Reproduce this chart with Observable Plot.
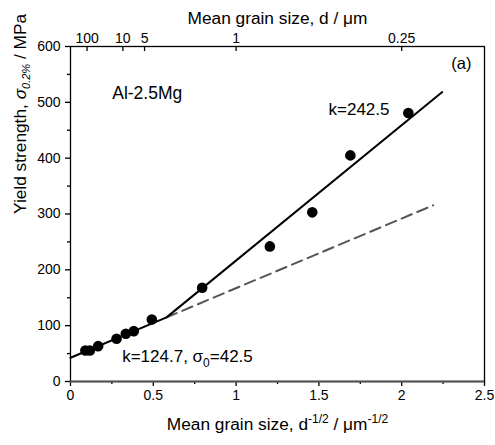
<!DOCTYPE html>
<html><head><meta charset="utf-8">
<script src="https://cdn.jsdelivr.net/npm/d3@7"></script>
<script src="https://cdn.jsdelivr.net/npm/@observablehq/plot@0.6"></script>
<style>body{margin:0;background:#fff}</style>
</head><body><div id="chart"></div>
<script>
// Data: d^-1/2 (µm^-1/2) and yield strength (MPa)
const grainInvSqrt = [0.090, 0.117, 0.167, 0.278, 0.334, 0.382, 0.491, 0.795, 1.204, 1.460, 1.690, 2.040];
const yieldStrength = [55.6, 55.6, 63.3, 76.5, 85.4, 90.2, 111, 168, 242, 303, 405, 481];

// Tick values
const xTicks = [0, 0.5, 1, 1.5, 2, 2.5];
const xMinorTicks = [0.25, 0.75, 1.25, 1.75, 2.25];
const yTicks = [0, 100, 200, 300, 400, 500, 600];
const yMinorTicks = [50, 150, 250, 350, 450, 550];
const grainSizeTicks = [100, 10, 5, 1, 0.25];
const grainSizeLabels = ["100", "10", "5", "1", "0.25"];

// Hall-Petch fits
const kLow = 124.7, sigma0 = 42.5;
const kHigh = 242.5, interceptHigh = -26;
const xKnee = 0.58, xSolidEnd = 2.245, xDashEnd = 2.19;

const topPositions = grainSizeTicks.map(d => 1 / Math.sqrt(d));
const low = x => kLow * x + sigma0;
const high = x => kHigh * x + interceptHigh;
const solidFit = [[0, low(0)], [xKnee, low(xKnee)], [xSolidEnd, high(xSolidEnd)]];
const dashFit = [[xKnee, low(xKnee)], [xDashEnd, low(xDashEnd)]];
const points = grainInvSqrt.map((x, i) => ({x, y: yieldStrength[i]}));

const font = "Liberation Sans, Arial, Helvetica, sans-serif";

const plot = Plot.plot({
  width: 495, height: 445,
  marginLeft: 70, marginRight: 11, marginTop: 46, marginBottom: 64,
  style: {fontFamily: font, fontSize: "14px", color: "#000", background: "#fff", overflow: "visible"},
  x: {domain: [0, 2.5]},
  y: {domain: [0, 600]},
  marks: [
    Plot.frame({stroke: "#000", strokeWidth: 1.3}),
    Plot.axisX({ticks: xTicks, tickSize: 5, tickPadding: 4, tickFormat: d => String(d), label: null, strokeWidth: 1.3}),
    Plot.axisX({ticks: xMinorTicks, tickSize: 3, tickFormat: () => "", label: null, strokeWidth: 1.3}),
    Plot.axisX({anchor: "top", ticks: topPositions, tickSize: -4, tickPadding: 8, label: null, strokeWidth: 1.3,
      tickFormat: v => grainSizeLabels[topPositions.indexOf(v)]}),
    Plot.axisY({ticks: yTicks, tickSize: 5, tickPadding: 5, label: null, strokeWidth: 1.3}),
    Plot.axisY({ticks: yMinorTicks, tickSize: 3, tickFormat: () => "", label: null, strokeWidth: 1.3}),
    Plot.ruleY([0], {stroke: "#555", strokeWidth: 2}),
    Plot.line(dashFit, {x: d => d[0], y: d => d[1], stroke: "#555", strokeWidth: 2, strokeDasharray: "11,6"}),
    Plot.line(solidFit, {x: d => d[0], y: d => d[1], stroke: "#000", strokeWidth: 2}),
    Plot.dot(points, {x: "x", y: "y", r: 5.3, fill: "#000", stroke: "none"}),
    Plot.text(["Al-2.5Mg"], {x: 0.252, y: 516, text: d => d, textAnchor: "start", fontSize: 17.5}),
    Plot.text(["(a)"], {x: 2.36, y: 569, text: d => d, fontSize: 16.5}),
    Plot.text(["k=242.5"], {x: 1.558, y: 487, text: d => d, textAnchor: "start", fontSize: 17}),
    Plot.text(["K1LABEL"], {x: 0.312, y: 44, text: d => d, textAnchor: "start", fontSize: 17}),
    Plot.text(["XLABEL"], {frameAnchor: "bottom", dy: 48, text: d => d, fontSize: 17.3}),
    Plot.text(["TOPLABEL"], {frameAnchor: "top", dy: -35, text: d => d, fontSize: 17.3}),
    Plot.text(["YLABEL"], {frameAnchor: "left", dx: -50, rotate: -90, text: d => d, fontSize: 17.3})
  ]
});

const rich = {
  "K1LABEL": 'k=124.7, σ<tspan dy="5" font-size="12">0</tspan><tspan dy="-5">=42.5</tspan>',
  "XLABEL": 'Mean grain size, d<tspan dy="-7" font-size="12">-1/2</tspan><tspan dy="7"> / μm</tspan><tspan dy="-7" font-size="12">-1/2</tspan>',
  "TOPLABEL": 'Mean grain size, d / μm',
  "YLABEL": 'Yield strength, <tspan font-style="italic">σ</tspan><tspan dy="4" font-size="11" font-style="italic">0.2%</tspan><tspan dy="-4"> / MPa</tspan>'
};
plot.querySelectorAll("text").forEach(t => {
  const key = t.textContent;
  if (rich[key]) t.innerHTML = rich[key];
});
document.getElementById("chart").appendChild(plot);
</script>
</body></html>
